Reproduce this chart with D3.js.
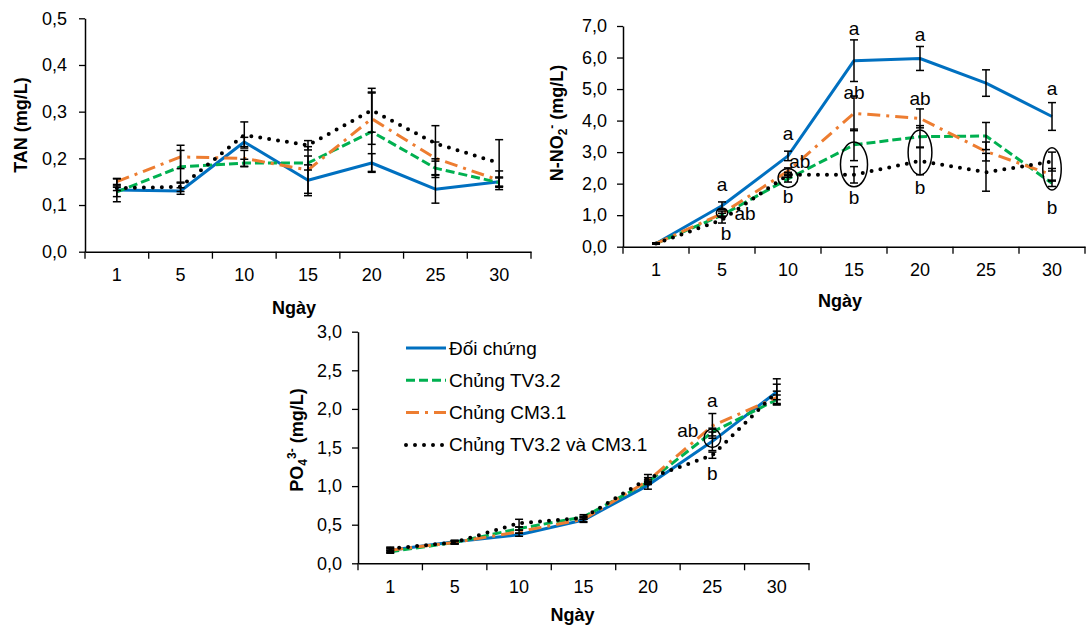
<!DOCTYPE html>
<html>
<head>
<meta charset="utf-8">
<script src="https://cdn.jsdelivr.net/npm/d3@7"></script>
<style>
  body { margin: 0; background: #fff; }
  svg text { font-family: "Liberation Sans", Arial, sans-serif; fill: #000; }
</style>
</head>
<body>
<svg id="chart" width="1087" height="627"></svg>
<script>
// categories + series
var days = ["1", "5", "10", "15", "20", "25", "30"];
var seriesNames = ["Đối chứng", "Chủng TV3.2", "Chủng CM3.1", "Chủng TV3.2 và CM3.1"];

// TAN (mg/L), one row per series
var tanMeans = [
  [0.132, 0.130, 0.235, 0.153, 0.190, 0.134, 0.150],
  [0.128, 0.182, 0.190, 0.190, 0.257, 0.179, 0.148],
  [0.150, 0.203, 0.200, 0.175, 0.285, 0.200, 0.153],
  [0.136, 0.139, 0.250, 0.228, 0.303, 0.232, 0.190]
];
var tanErrs = [
  [0.025, 0.007, 0.010, 0.033, 0.020, 0.030, 0.010],
  [0.010, 0.035, 0.008, 0.015, 0.085, 0.020, 0.010],
  [0.006, 0.025, 0.017, 0.050, 0.055, 0.035, 0.020],
  [0.005, 0.010, 0.028, 0.010, 0.047, 0.038, 0.050]
];

// N-NO2- (mg/L)
var no2Means = [
  [0.10, 1.30, 2.88, 5.90, 5.97, 5.19, 4.13],
  [0.10, 1.00, 2.15, 3.23, 3.49, 3.51, 2.01],
  [0.10, 1.05, 2.40, 4.23, 4.07, 3.02, 2.28],
  [0.10, 0.85, 2.28, 2.28, 2.72, 2.36, 2.70]
];
var no2Errs = [
  [0.02, 0.12, 0.15, 0.66, 0.38, 0.42, 0.44],
  [0.02, 0.06, 0.10, 0.50, 0.35, 0.43, 0.10],
  [0.02, 0.08, 0.10, 0.55, 0.30, 0.30, 0.20],
  [0.02, 0.10, 0.08, 0.26, 0.44, 0.60, 0.30]
];

// PO4 3- (mg/L)
var po4Means = [
  [0.17, 0.28, 0.37, 0.56, 1.01, 1.58, 2.22],
  [0.15, 0.27, 0.45, 0.60, 1.05, 1.70, 2.12],
  [0.17, 0.27, 0.41, 0.57, 1.07, 1.78, 2.15],
  [0.19, 0.27, 0.52, 0.59, 1.10, 1.40, 2.22]
];
var po4Errs = [
  [0.03, 0.02, 0.02, 0.03, 0.05, 0.12, 0.17],
  [0.02, 0.02, 0.02, 0.03, 0.03, 0.05, 0.06],
  [0.02, 0.02, 0.02, 0.03, 0.04, 0.16, 0.08],
  [0.02, 0.02, 0.05, 0.02, 0.05, 0.04, 0.10]
];

// significance letters: [day, value at baseline, text, shift in bands]
var no2Letters = [
  ["5", 1.78, "a", 0], ["5", 0.85, "ab", 0.35], ["5", 0.21, "b", 0.06],
  ["10", 3.37, "a", 0], ["10", 2.50, "ab", 0.18], ["10", 1.40, "b", 0],
  ["15", 6.72, "a", 0], ["15", 4.69, "ab", 0], ["15", 1.36, "b", 0],
  ["20", 6.54, "a", 0], ["20", 4.50, "ab", 0], ["20", 1.67, "b", 0],
  ["30", 4.82, "a", 0], ["30", 1.04, "b", 0]
];
// ellipses: [day, centre value, half height (value), half width (bands)]
var no2Rings = [
  ["5", 1.07, 0.16, 0.085], ["10", 2.18, 0.30, 0.15],
  ["15", 2.61, 0.71, 0.205], ["20", 2.99, 0.71, 0.18], ["30", 2.47, 0.67, 0.14]
];
var po4Letters = [
  ["25", 2.02, "a", 0], ["25", 1.64, "ab", -0.38], ["25", 1.08, "b", 0]
];
var po4Rings = [["25", 1.62, 0.12, 0.13]];

var colors = ["#0070C0", "#00B050", "#ED7D31", "#000000"];
var dashes = [null, "9,4", "13,6,3,6", "0,9"];
var widths = [3, 3, 3, 4];

var svg = d3.select("#chart");
var fmt = function(d) { return d3.format(".1f")(d).replace(".", ","); };

function drawChart(o) {
  var x = d3.scaleBand().domain(days).range([o.x0, o.x1]).padding(0);
  var y = d3.scaleLinear().domain([0, o.ymax]).range([o.y0, o.y1]);
  var cx = function(d) { return x(d) + x.bandwidth() / 2; };
  var g = svg.append("g");

  // y axis
  var ya = g.append("g").attr("transform", "translate(" + o.x0 + ",0)")
    .call(d3.axisLeft(y).tickValues(d3.range(0, o.ymax + 1e-9, o.step))
      .tickFormat(fmt).tickSize(6).tickSizeOuter(0).tickPadding(o.pad));
  ya.selectAll("text").style("font-size", "18px");

  // x axis (labels centred, ticks between categories)
  var xa = g.append("g").attr("transform", "translate(0," + o.y0 + ")")
    .call(d3.axisBottom(x).tickSize(0).tickPadding(17).tickSizeOuter(0));
  xa.selectAll("text").style("font-size", "18px");
  xa.selectAll("line.between").data(days.concat(["end"])).enter().append("line")
    .attr("class", "between")
    .attr("x1", function(d) { return d == "end" ? o.x1 : x(d); })
    .attr("x2", function(d) { return d == "end" ? o.x1 : x(d); })
    .attr("y1", 0).attr("y2", 7).attr("stroke", "#000");
  g.selectAll(".domain").attr("stroke", "#000").attr("stroke-width", 1.5);
  g.selectAll(".tick line").attr("stroke-width", 1.3);
  xa.selectAll("line.between").attr("stroke-width", 1.3);

  var line = d3.line().x(function(d, i) { return cx(days[i]); }).y(function(d) { return y(d); });

  o.means.forEach(function(s, k) {
    g.append("path").datum(s)
      .attr("d", line)
      .attr("fill", "none")
      .attr("stroke", colors[k])
      .attr("stroke-width", widths[k])
      .attr("stroke-dasharray", dashes[k])
      .attr("stroke-linecap", k == 3 ? "round" : "butt")
      .attr("stroke-linejoin", "round");
  });

  // error bars
  o.means.forEach(function(s, k) {
    s.forEach(function(v, i) {
      var e = o.errs[k][i];
      var xx = cx(days[i]);
      var eb = g.append("g").attr("stroke", "#000").attr("stroke-width", 1.5);
      eb.append("line").attr("x1", xx).attr("x2", xx).attr("y1", y(v - e)).attr("y2", y(v + e));
      eb.append("line").attr("x1", xx - 4).attr("x2", xx + 4).attr("y1", y(v - e)).attr("y2", y(v - e));
      eb.append("line").attr("x1", xx - 4).attr("x2", xx + 4).attr("y1", y(v + e)).attr("y2", y(v + e));
    });
  });

  (o.rings || []).forEach(function(r) {
    g.append("ellipse")
      .attr("cx", cx(r[0])).attr("cy", y(r[1]))
      .attr("rx", r[3] * x.bandwidth()).attr("ry", Math.abs(y(0) - y(r[2])))
      .attr("fill", "none").attr("stroke", "#000").attr("stroke-width", 1.5);
  });
  (o.letters || []).forEach(function(l) {
    g.append("text")
      .attr("x", cx(l[0]) + l[3] * x.bandwidth()).attr("y", y(l[1]))
      .attr("text-anchor", "middle").style("font-size", "19px")
      .text(l[2]);
  });

  // titles
  g.append("text").attr("x", (o.x0 + o.x1) / 2 + o.xtDx).attr("y", o.y0 + o.xtDy)
    .attr("text-anchor", "middle").style("font-size", "18px").style("font-weight", "bold")
    .text("Ngày");
  var yt = g.append("text")
    .attr("transform", "translate(" + o.ytX + "," + o.ytY + ") rotate(-90)")
    .attr("text-anchor", "middle").style("font-size", "18px").style("font-weight", "bold");
  o.ytitle(yt);
  return { x: x, y: y };
}

drawChart({
  x0: 85, x1: 531, y0: 251.7, y1: 18.3, ymax: 0.5, step: 0.1, pad: 12,
  means: tanMeans, errs: tanErrs, xtDx: -14, xtDy: 62, ytX: 27, ytY: 125,
  ytitle: function(t) { t.text("TAN (mg/L)"); }
});

drawChart({
  x0: 623, x1: 1085, y0: 246.7, y1: 26, ymax: 7, step: 1, pad: 10,
  means: no2Means, errs: no2Errs, letters: no2Letters, rings: no2Rings,
  xtDx: -14, xtDy: 60, ytX: 563, ytY: 123,
  ytitle: function(t) {
    t.append("tspan").text("N-NO");
    t.append("tspan").attr("baseline-shift", "-30%").style("font-size", "12px").text("2");
    t.append("tspan").attr("baseline-shift", "60%").style("font-size", "12px").text("-");
    t.append("tspan").text(" (mg/L)");
  }
});

drawChart({
  x0: 358, x1: 809, y0: 563.3, y1: 331.7, ymax: 3, step: 0.5, pad: 10,
  means: po4Means, errs: po4Errs, letters: po4Letters, rings: po4Rings,
  xtDx: -11, xtDy: 58, ytX: 303, ytY: 440,
  ytitle: function(t) {
    t.append("tspan").text("PO");
    t.append("tspan").attr("baseline-shift", "-30%").style("font-size", "12px").text("4");
    t.append("tspan").attr("baseline-shift", "60%").style("font-size", "12px").text("3-");
    t.append("tspan").text(" (mg/L)");
  }
});

// legend inside the PO4 panel
var lg = svg.append("g").attr("transform", "translate(406,348)");
seriesNames.forEach(function(n, k) {
  var row = lg.append("g").attr("transform", "translate(0," + (k * 32.3) + ")");
  row.append("line").attr("x1", 0).attr("x2", 40).attr("y1", 0).attr("y2", 0)
    .attr("stroke", colors[k]).attr("stroke-width", widths[k])
    .attr("stroke-dasharray", dashes[k])
    .attr("stroke-linecap", k == 3 ? "round" : "butt");
  row.append("text").attr("x", 43).attr("y", 6.5).style("font-size", "19px").text(n);
});
</script>
</body>
</html>
